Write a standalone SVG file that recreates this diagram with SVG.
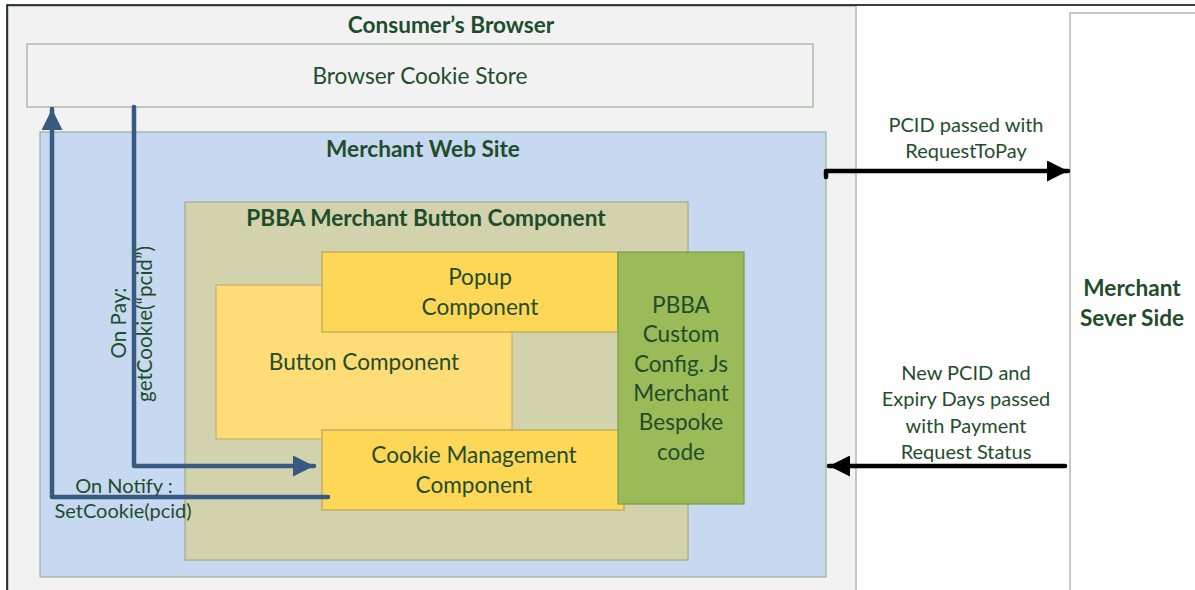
<svg xmlns="http://www.w3.org/2000/svg" width="1195" height="590" viewBox="0 0 1195 590">
<defs>
<style>
text{font-family:Lato,"Liberation Sans",sans-serif;fill:#1f4d2b;}
.b{font-weight:bold;}
.c{text-anchor:middle;}
.r{font-size:20px;}
.v{font-size:20.6px;}
.m{font-size:22.6px;}
.box{stroke:#9fb3a6;stroke-width:1.3;}
.blue{stroke:#385a82;stroke-width:4.5;fill:none;stroke-linecap:round;stroke-linejoin:round;}
.blk{stroke:#000;stroke-width:4.5;fill:none;stroke-linecap:round;stroke-linejoin:round;}
</style>
<marker id="ab" viewBox="0 0 10 10" refX="10" refY="5" markerUnits="userSpaceOnUse" markerWidth="31" markerHeight="21" orient="auto"><path d="M0,0L10,5L0,10z" fill="#385a82"/></marker>
<marker id="ak" viewBox="0 0 10 10" refX="10" refY="5" markerUnits="userSpaceOnUse" markerWidth="31" markerHeight="21" orient="auto"><path d="M0,0L10,5L0,10z" fill="#000"/></marker>
</defs>
<rect width="1195" height="590" fill="#fff"/>
<g id="consumer-browser">
<rect x="8" y="6" width="848" height="600" fill="#f2f2f2" class="box"/>
<text x="451" y="32.5" class="b c m">Consumer’s Browser</text>
</g>
<g id="frame">
<path d="M7,590V5H1195" fill="none" stroke="#000" stroke-width="1.5"/>
</g>
<g id="cookie-store">
<rect x="27" y="44" width="786" height="63" fill="#f2f2f2" class="box"/>
<text x="420" y="83.5" class="c m">Browser Cookie Store</text>
</g>
<g id="merchant-web-site">
<rect x="40" y="132" width="786" height="445" fill="#c6d9f1" class="box"/>
<text x="423" y="156.5" class="b c m">Merchant Web Site</text>
</g>
<g id="pbba-button-component">
<rect x="185" y="202" width="503" height="358" fill="#d2d3ad" stroke="#a3a888" stroke-width="1.2"/>
<text x="426" y="225.5" class="b c m">PBBA Merchant Button Component</text>
</g>
<g id="button-component">
<rect x="216" y="285" width="296" height="154" fill="#ffdc75" stroke="#c4b071" stroke-width="1.2"/>
<text x="364" y="370" class="c m">Button Component</text>
</g>
<g id="popup-component">
<rect x="322" y="252" width="296" height="80" fill="#ffd757" stroke="#b8a55c" stroke-width="1.2"/>
<text x="480" y="285" class="c m">Popup</text>
<text x="480" y="315" class="c m">Component</text>
</g>
<g id="cookie-management-component">
<rect x="322" y="430" width="302" height="80" fill="#ffd757" stroke="#b8a55c" stroke-width="1.2"/>
<text x="474" y="463" class="c m">Cookie Management</text>
<text x="474" y="493" class="c m">Component</text>
</g>
<g id="pbba-custom-config">
<rect x="618" y="252" width="126" height="252" fill="#9bbb59" stroke="#7a9a4a" stroke-width="1.2"/>
<text x="681" y="313" class="c m">PBBA</text>
<text x="681" y="342" class="c m">Custom</text>
<text x="681" y="372" class="c m">Config. Js</text>
<text x="681" y="401" class="c m">Merchant</text>
<text x="681" y="430" class="c m">Bespoke</text>
<text x="681" y="460" class="c m">code</text>
</g>
<g id="merchant-server-side">
<rect x="1070" y="13" width="140" height="600" fill="#fff" class="box"/>
<text x="1132" y="296" class="b c m">Merchant</text>
<text x="1132" y="326" class="b c m">Sever Side</text>
</g>
<g id="connectors">
<path class="blue" d="M328,497H52V109" marker-end="url(#ab)"/>
<path class="blue" d="M134,107V466H314" marker-end="url(#ab)"/>
<path class="blk" d="M826,177V171H1068" marker-end="url(#ak)"/>
<path class="blk" d="M1065,466H829" marker-end="url(#ak)"/>
</g>
<g id="labels">
<text transform="translate(126,323) rotate(-90)" class="c v">On Pay:</text>
<text transform="translate(152,324) rotate(-90)" class="c v">getCookie(“pcid”)</text>
<text x="124" y="493" class="c r">On Notify :</text>
<text x="123" y="518" class="c r">SetCookie(pcid)</text>
<text x="966" y="132" class="c r">PCID passed with</text>
<text x="966" y="158" class="c r">RequestToPay</text>
<text x="966" y="380" class="c r">New PCID and</text>
<text x="966" y="406" class="c r">Expiry Days passed</text>
<text x="966" y="433" class="c r">with Payment</text>
<text x="966" y="459" class="c r">Request Status</text>
</g>
</svg>
